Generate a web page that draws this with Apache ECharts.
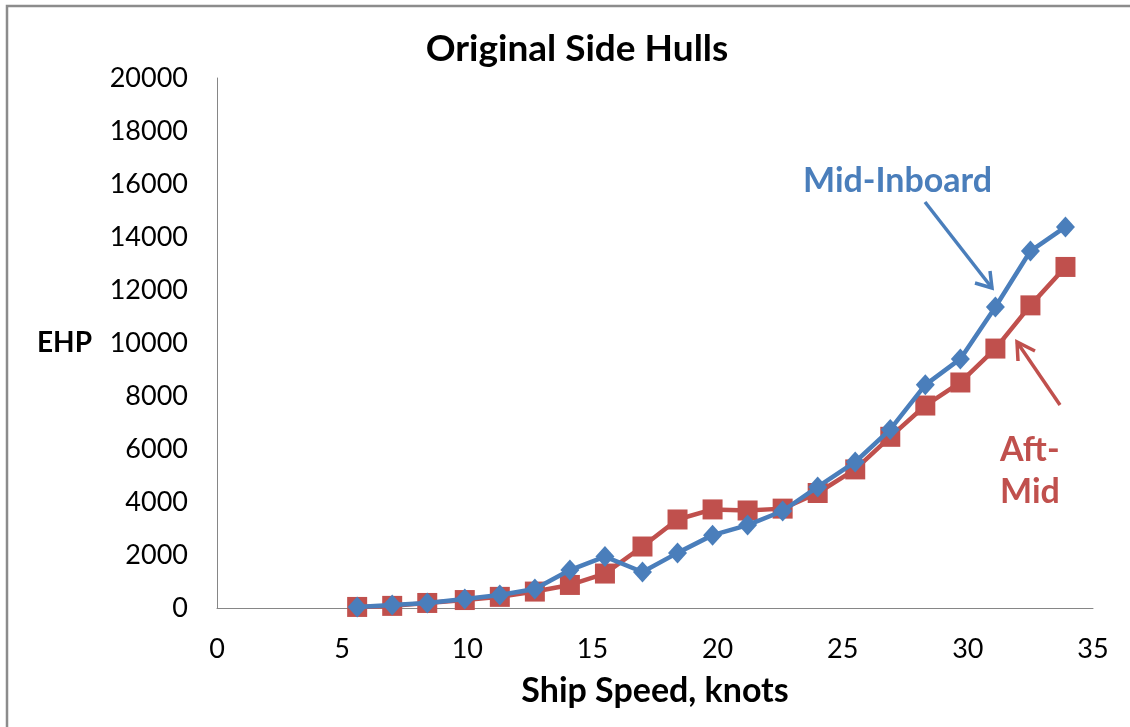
<!DOCTYPE html>
<html>
<head>
<meta charset="utf-8">
<title>Original Side Hulls</title>
<script src="https://cdn.jsdelivr.net/npm/echarts@6/dist/echarts.min.js"></script>
<style>
  html, body {
    margin: 0;
    padding: 0;
    background: #ffffff;
  }
  #chart {
    width: 1130px;
    height: 727px;
  }
</style>
</head>
<body>
<div id="chart"></div>
<script>
// ship speed (knots) for each run
const speeds = [5.6, 7.0, 8.4, 9.9, 11.3, 12.7, 14.1, 15.5, 17.0, 18.4, 19.8,
  21.2, 22.6, 24.0, 25.5, 26.9, 28.3, 29.7, 31.1, 32.5, 33.9]

// EHP values
const aftMid = [40, 80, 190, 300, 420, 620, 870, 1300, 2320, 3340, 3720,
  3680, 3750, 4340, 5230, 6460, 7640, 8510, 9790, 11420, 12870]
const midInboard = [40, 110, 190, 340, 490, 720, 1430, 1940, 1360, 2080, 2750,
  3130, 3660, 4570, 5510, 6740, 8420, 9400, 11360, 13470, 14380]

const BLUE = '#4a7ebb'
const RED = '#c0504d'
const FONT = 'Lato'

const chart = echarts.init(document.getElementById('chart'))

const toPoints = (ys) => speeds.map((x, i) => [x, ys[i]])

const option = {
  animation: false,
  title: {
    text: 'Original Side Hulls',
    left: 572,
    top: 26,
    textAlign: 'center',
    textStyle: {
      fontFamily: FONT,
      fontSize: 37,
      fontWeight: 'bold',
      color: '#000'
    }
  },
  grid: {
    left: 217,
    right: 37,
    top: 78,
    bottom: 119
  },
  xAxis: {
    type: 'value',
    min: 0,
    max: 35,
    interval: 5,
    name: 'Ship Speed, knots',
    nameLocation: 'middle',
    nameGap: 66,
    nameTextStyle: {
      fontFamily: FONT,
      fontSize: 34,
      fontWeight: 'bold',
      color: '#000'
    },
    axisLine: { lineStyle: { color: '#868686', width: 1 } },
    axisTick: { show: false },
    splitLine: { show: false },
    axisLabel: {
      margin: 28,
      fontFamily: FONT,
      fontSize: 27,
      color: '#000'
    }
  },
  yAxis: {
    type: 'value',
    min: 0,
    max: 20000,
    interval: 2000,
    name: 'EHP',
    nameLocation: 'middle',
    nameRotate: 0,
    nameGap: 125,
    nameTextStyle: {
      fontFamily: FONT,
      fontSize: 28,
      fontWeight: 'bold',
      color: '#000',
      align: 'right'
    },
    axisLine: { show: true, lineStyle: { color: '#868686', width: 1 } },
    axisTick: { show: false },
    splitLine: { show: false },
    axisLabel: {
      margin: 29,
      fontFamily: FONT,
      fontSize: 27,
      color: '#000',
      formatter: (v) => String(v)
    }
  },
  series: [
    {
      name: 'Aft-Mid',
      type: 'line',
      data: toPoints(aftMid),
      symbol: 'rect',
      symbolSize: 20,
      lineStyle: { color: RED, width: 4.5 },
      itemStyle: { color: RED },
      z: 2
    },
    {
      name: 'Mid-Inboard',
      type: 'line',
      data: toPoints(midInboard),
      symbol: 'diamond',
      symbolSize: [19, 21],
      lineStyle: { color: BLUE, width: 4.5 },
      itemStyle: { color: BLUE },
      z: 3
    }
  ],
  graphic: [
    // outer frame
    {
      type: 'rect',
      shape: { x: 7, y: 6, width: 1140, height: 740 },
      style: { fill: 'none', stroke: '#8c8c8c', lineWidth: 2.5 },
      silent: true
    },
    // labels + arrows
    {
      type: 'text',
      x: 803,
      y: 181,
      style: {
        text: 'Mid-Inboard',
        fill: BLUE,
        fontFamily: FONT,
        fontSize: 34,
        fontWeight: 'bold',
        verticalAlign: 'middle'
      }
    },
    {
      type: 'line',
      shape: { x1: 925, y1: 202, x2: 992, y2: 288 },
      style: { stroke: BLUE, lineWidth: 3.5 }
    },
    {
      type: 'polyline',
      shape: { points: [[975, 283], [992, 288], [990, 271]] },
      style: { stroke: BLUE, lineWidth: 3.5, fill: 'none' }
    },
    {
      type: 'text',
      x: 1000,
      y: 450,
      style: {
        text: 'Aft-',
        fill: RED,
        fontFamily: FONT,
        fontSize: 34,
        fontWeight: 'bold',
        verticalAlign: 'middle'
      }
    },
    {
      type: 'text',
      x: 1000,
      y: 492,
      style: {
        text: 'Mid',
        fill: RED,
        fontFamily: FONT,
        fontSize: 34,
        fontWeight: 'bold',
        verticalAlign: 'middle'
      }
    },
    {
      type: 'line',
      shape: { x1: 1060, y1: 405, x2: 1017, y2: 342 },
      style: { stroke: RED, lineWidth: 3.5 }
    },
    {
      type: 'polyline',
      shape: { points: [[1018, 361], [1017, 342], [1035, 351]] },
      style: { stroke: RED, lineWidth: 3.5, fill: 'none' }
    }
  ]
}

chart.setOption(option)

window.addEventListener('resize', () => chart.resize())
</script>
</body>
</html>
